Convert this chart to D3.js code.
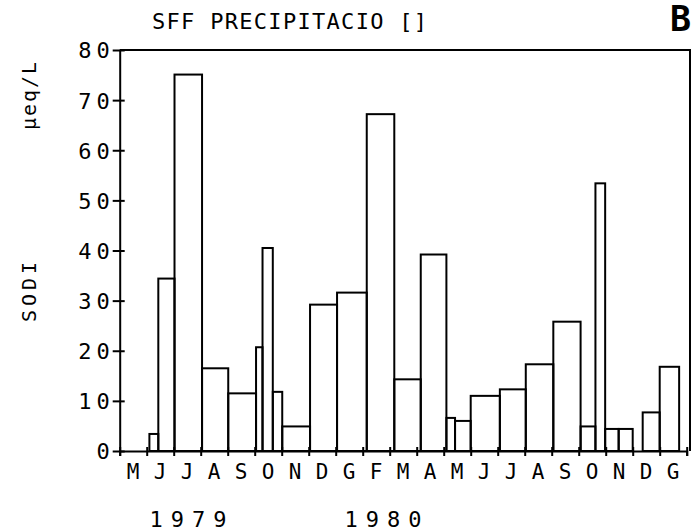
<!DOCTYPE html>
<html><head><meta charset="utf-8">
<script src="https://cdn.jsdelivr.net/npm/d3@7"></script>
<style>
body{margin:0;background:#fff;}
svg{display:block;}
text{font-family:"DejaVu Sans Mono",monospace;fill:#000;}
</style></head><body>
<svg id="chart" width="693" height="531"></svg>
<script>
// Sampling periods (months counted from 1 May 1979) and sodium in precipitation (µeq/L)
const periodStart = [1.10,1.43,2.03,3.05,4.02,5.05,5.29,5.67,6.02,7.05,8.05,9.15,10.17,11.15,12.10,12.42,13.00,14.08,15.04,16.06,17.07,17.62,17.98,18.48,19.37,20.00];
const periodEnd   = [1.43,2.03,3.05,4.02,5.05,5.29,5.67,6.02,7.05,8.05,9.15,10.17,11.15,12.10,12.42,13.00,14.08,15.04,16.06,17.07,17.62,17.98,18.48,19.00,20.00,20.72];
const sodi        = [3.4,34.4,75.1,16.5,11.5,20.7,40.5,11.8,4.9,29.2,31.6,67.2,14.3,39.2,6.6,6.0,11.0,12.3,17.3,25.8,4.9,53.4,4.4,4.4,7.7,16.8];
const monthLabels = ["M","J","J","A","S","O","N","D","G","F","M","A","M","J","J","A","S","O","N","D","G"];
const yTicks      = [0,10,20,30,40,50,60,70,80];
const yearLabels  = ["1979","1980"];

const svg = d3.select("#chart");
const x = d3.scaleLinear().domain([0, 21]).range([119.7, 686.7]);
const y = d3.scaleLinear().domain([0, 80]).range([451, 50]);
const ink = "#000", sw = 2;

// frame: top and right edges
svg.append("path")
  .attr("d", `M${x(0)},${y(80)}H690V${y(0)}`)
  .attr("fill","none").attr("stroke",ink).attr("stroke-width",sw);

// bars, one per sampling period
const bars = periodStart.map((s,i)=>({s, e: periodEnd[i], v: sodi[i]}));
svg.append("g").selectAll("rect").data(bars).join("rect")
  .attr("x", d=>x(d.s)).attr("width", d=>x(d.e)-x(d.s))
  .attr("y", d=>y(d.v)).attr("height", d=>y(0)-y(d.v))
  .attr("fill","none").attr("stroke",ink).attr("stroke-width",sw);

// y axis with crossing ticks
const yAxis = d3.axisLeft(y).tickValues(yTicks).tickSizeInner(7).tickSizeOuter(0);
const gy = svg.append("g").attr("transform",`translate(${x(0)},0)`).call(yAxis);
gy.select(".domain").attr("stroke",ink).attr("stroke-width",sw);
gy.selectAll(".tick line").attr("stroke",ink).attr("stroke-width",sw).attr("x2",-7).attr("x1",5);
gy.selectAll(".tick text").attr("font-size",22).attr("letter-spacing",5)
  .attr("font-family","DejaVu Sans Mono").attr("x",-5).attr("dy","0.36em");

// x axis: month boundaries as ticks, month initials centred in each month
const xAxis = d3.axisBottom(x).tickValues(d3.range(0,22)).tickSize(5).tickFormat("");
const gx = svg.append("g").attr("transform",`translate(0,${y(0)})`).call(xAxis);
gx.select(".domain").attr("stroke",ink).attr("stroke-width",sw);
gx.selectAll(".tick line").attr("stroke",ink).attr("stroke-width",sw).attr("y1",-4);

svg.append("g").selectAll("text").data(monthLabels).join("text")
  .attr("x",(d,i)=>x(i+0.5)).attr("y",479)
  .attr("text-anchor","middle").attr("font-size",21).text(d=>d);

// years under the month row
svg.append("g").selectAll("text").data(yearLabels).join("text")
  .attr("x",(d,i)=>x([2.53,9.75][i])+4).attr("y",527)
  .attr("text-anchor","middle").attr("font-size",22).attr("letter-spacing",8).text(d=>d);

// title and panel letter
svg.append("text").attr("x",152).attr("y",29).attr("font-size",22).attr("letter-spacing",1.3)
  .text("SFF PRECIPITACIO []");
svg.append("text").attr("x",691).attr("y",31).attr("text-anchor","end")
  .attr("font-family","Liberation Sans, Arial, sans-serif").attr("font-weight","bold")
  .attr("font-size",35).text("B");

// rotated y-axis captions
svg.append("text").attr("transform","translate(36,290) rotate(-90)")
  .attr("text-anchor","middle").attr("font-size",20).attr("letter-spacing",4).text("SODI");
svg.append("text").attr("transform","translate(36,95) rotate(-90)")
  .attr("text-anchor","middle").attr("font-size",20).attr("letter-spacing",2).text("µeq/L");
</script>
</body></html>
